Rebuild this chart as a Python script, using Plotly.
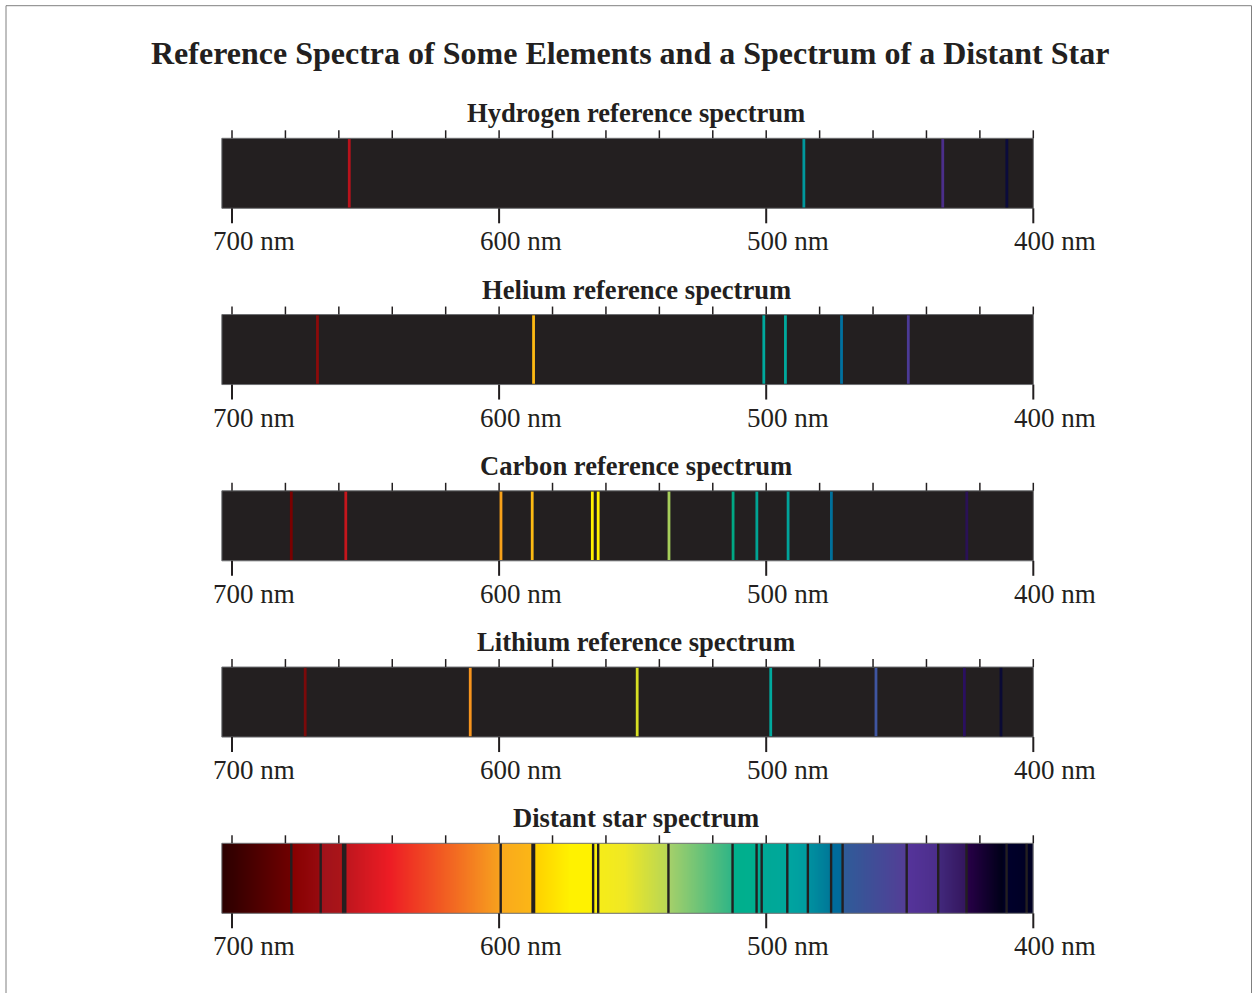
import numpy as np
import plotly.graph_objects as go

# ---------------- data ----------------
TITLE = "Reference Spectra of Some Elements and a Spectrum of a Distant Star"
PANEL_TITLES = [
    "Hydrogen reference spectrum",
    "Helium reference spectrum",
    "Carbon reference spectrum",
    "Lithium reference spectrum",
    "Distant star spectrum",
]

LABEL_TICKS_NM = [700, 600, 500, 400]
MINOR_TICKS_NM = [700, 680, 660, 640, 620, 600, 580, 560, 540, 520, 500, 480, 460, 440, 420, 400]
SPECTRUM_RED_END_NM = 703.8
SPECTRUM_BLUE_END_NM = 400.0

hydrogen_nm = [656.1, 485.9, 433.9, 409.9]
hydrogen_colors = ["#B8121B", "#00979C", "#4B2E8A", "#0B0B3C"]

helium_nm = [668.0, 587.1, 500.9, 492.8, 471.8, 446.8]
helium_colors = ["#8B0A0A", "#FDB913", "#00A99D", "#00A99D", "#0071A0", "#4B3A96"]

carbon_nm = [677.8, 657.4, 599.3, 587.6, 565.1, 562.9, 536.4, 512.4, 503.5, 491.8, 475.6, 424.9]
carbon_colors = ["#7A0000", "#C4161C", "#F7A11A", "#FDBB13", "#FFF200", "#FFF200",
                 "#A6CE5A", "#00A884", "#00A393", "#00A39A", "#00709B", "#2A1155"]

lithium_nm = [672.6, 610.8, 548.3, 498.3, 458.9, 425.8, 412.1]
lithium_colors = ["#7A0A0A", "#F7941D", "#D7DF23", "#00A99D", "#3F55A0", "#2A1060", "#0A0A35"]

star_lines_nm = [677.8, 666.8, 658.4, 657.6, 599.4, 564.8, 562.9, 536.6, 512.6,
                 503.6, 501.7, 492.1, 484.4, 475.7, 471.4, 447.4, 435.6, 425.0, 410.0, 402.5]
star_strong_lines_nm = [587.2]

# continuum colour of the distant star (wavelength, colour)
star_continuum_nm = [703.8, 678.3, 677.5, 667.3, 666.3, 658.8, 656.8, 641.0, 618.0,
                     599.6, 599.0, 587.9, 586.4, 573.0, 565.0, 562.5, 553.0, 537.0,
                     536.0, 513.0, 512.2, 503.6, 501.5, 492.2, 491.6, 484.8, 484.0,
                     476.0, 475.4, 471.6, 471.2, 448.0, 447.0, 436.0, 435.2, 425.3,
                     424.7, 411.5, 410.3, 400.0]
star_continuum_colors = ["#2B0000", "#6E0000", "#870000", "#960A0F", "#A0121A", "#AA1519",
                         "#C0161E", "#ED1C24", "#F26522", "#F7A21E", "#F9A91C", "#FBB616",
                         "#FFD000", "#FFF200", "#FFF200", "#F6EC18", "#F0E824", "#B8D655",
                         "#A4D06A", "#30B586", "#00B08C", "#00AE8F", "#00A996", "#00A79A",
                         "#00A5A0", "#009CA0", "#0091A0", "#007898", "#006C9C", "#006A9A",
                         "#2E5C98", "#533E96", "#55349A", "#4C2E8C", "#42297C", "#34165E",
                         "#280048", "#000018", "#00002C", "#000022"]

ELEMENT_LINES = [
    (hydrogen_nm, hydrogen_colors),
    (helium_nm, helium_colors),
    (carbon_nm, carbon_colors),
    (lithium_nm, lithium_colors),
]

# ---------------- layout constants ----------------
W, H = 1256, 993
PX_PER_NM = (1033.3 - 232.0) / 300.0
X_LEFT = 700 + 232.0 / PX_PER_NM
X_RIGHT = X_LEFT - W / PX_PER_NM

BAR_TOP0 = 138.3
PANEL_STEP = 176.25
BAR_H = 70.0
DARK = "#231F20"
OUTLINE = "#6D6E71"
FONT = "Liberation Serif"

fig = go.Figure()
shapes = []
annotations = []

for i, ptitle in enumerate(PANEL_TITLES):
    top = BAR_TOP0 + i * PANEL_STEP
    bot = top + BAR_H
    if i < 4:
        shapes.append(dict(type="rect", xref="x", yref="y", x0=SPECTRUM_RED_END_NM, x1=SPECTRUM_BLUE_END_NM,
                           y0=top, y1=bot, fillcolor=DARK, line=dict(color=OUTLINE, width=1), layer="below"))
        nms, cols = ELEMENT_LINES[i]
        for nm, c in zip(nms, cols):
            shapes.append(dict(type="line", xref="x", yref="y", x0=nm, x1=nm, y0=top + 0.8, y1=bot - 0.8,
                               line=dict(color=c, width=2.8)))
    else:
        lo = min(star_continuum_nm)
        hi = max(star_continuum_nm)
        pairs = sorted(zip(star_continuum_nm, star_continuum_colors))
        cscale = [[(nm - lo) / (hi - lo), c] for nm, c in pairs]
        edges = np.linspace(lo, hi, 1521)
        mids = (edges[:-1] + edges[1:]) / 2
        fig.add_trace(go.Heatmap(x=edges, y=[top, bot], z=[mids], colorscale=cscale,
                                 zmin=lo, zmax=hi, showscale=False, hoverinfo="skip"))
        for nm in star_lines_nm:
            shapes.append(dict(type="line", xref="x", yref="y", x0=nm, x1=nm, y0=top, y1=bot,
                               line=dict(color=DARK, width=2.4)))
        for nm in star_strong_lines_nm:
            shapes.append(dict(type="line", xref="x", yref="y", x0=nm, x1=nm, y0=top, y1=bot,
                               line=dict(color=DARK, width=4)))
        shapes.append(dict(type="rect", xref="x", yref="y", x0=SPECTRUM_RED_END_NM, x1=SPECTRUM_BLUE_END_NM,
                           y0=top, y1=bot, line=dict(color=OUTLINE, width=1)))
    # ticks
    for t in MINOR_TICKS_NM:
        shapes.append(dict(type="line", xref="x", yref="y", x0=t, x1=t, y0=top - 8, y1=top,
                           line=dict(color=DARK, width=1.5)))
    for t in LABEL_TICKS_NM:
        shapes.append(dict(type="line", xref="x", yref="y", x0=t, x1=t, y0=bot, y1=bot + 15,
                           line=dict(color=DARK, width=2)))
        annotations.append(dict(x=t, y=bot + 33, xref="x", yref="y", text=f"{t} nm", showarrow=False,
                                xanchor="center", yanchor="middle", xshift=22,
                                font=dict(family=FONT, size=27, color=DARK)))
    annotations.append(dict(x=0.5, y=top - 25, xref="paper", yref="y", text=f"<b>{ptitle}</b>",
                            showarrow=False, xanchor="center", yanchor="middle", xshift=8,
                            font=dict(family=FONT, size=26.6, color=DARK)))

annotations.append(dict(x=0.5, y=52.5, xref="paper", yref="y", text=f"<b>{TITLE}</b>",
                        showarrow=False, xanchor="center", yanchor="middle", xshift=2,
                        font=dict(family=FONT, size=32, color=DARK)))

# outer frame
shapes.append(dict(type="rect", xref="paper", yref="y", x0=6 / W, x1=1251.5 / W, y0=5.7, y1=1100,
                   line=dict(color="#808080", width=1)))

fig.update_layout(
    width=W, height=H,
    margin=dict(l=0, r=0, t=0, b=0),
    paper_bgcolor="white", plot_bgcolor="white",
    xaxis=dict(range=[X_LEFT, X_RIGHT], visible=False, fixedrange=True),
    yaxis=dict(range=[H, 0], visible=False, fixedrange=True),
    shapes=shapes, annotations=annotations,
    showlegend=False,
)

fig.write_html("out.html")
